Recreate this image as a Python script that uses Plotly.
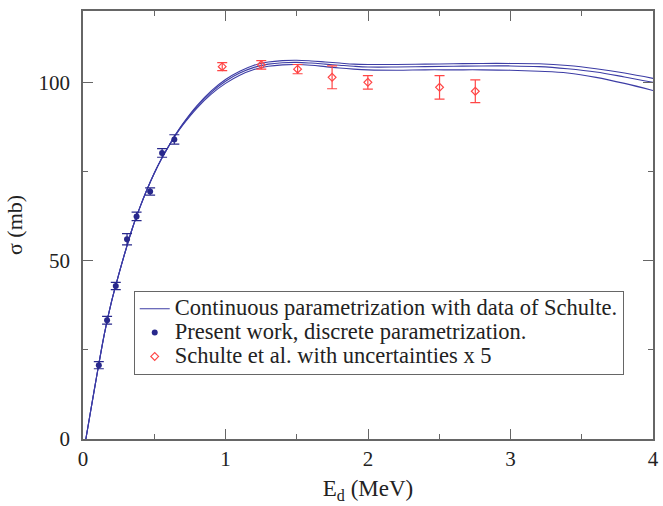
import plotly.graph_objects as go

# Continuous parametrization: central curve and its upper/lower bounds
e_curve = [0.02, 0.05, 0.1, 0.15, 0.2, 0.25, 0.3, 0.35, 0.4, 0.45, 0.5, 0.55, 0.6, 0.65, 0.7,
           0.8, 0.9, 1.0, 1.1, 1.2, 1.3, 1.4, 1.5, 1.6, 1.7, 1.8, 1.9, 2.0, 2.2, 2.4, 2.6,
           2.8, 3.0, 3.2, 3.4, 3.6, 3.8, 4.0]
sigma_mid = [0, 7, 18.5, 29.5, 38.5, 46, 53, 59.5, 65, 70, 74.5, 78.5, 82, 85.3, 88.2,
             93.2, 97.2, 100.3, 102.6, 104.2, 105.1, 105.5, 105.6, 105.4, 105.1, 104.8, 104.5, 104.3,
             104.3, 104.4, 104.5, 104.6, 104.6, 104.4, 103.8, 102.9, 101.5, 100.0]
sigma_up = [0, 7, 18.5, 29.5, 38.5, 46, 53, 59.5, 65, 70, 74.5, 78.5, 82, 85.4, 88.4,
            93.5, 97.6, 100.8, 103.1, 104.8, 105.7, 106.1, 106.2, 106.0, 105.7, 105.4, 105.1, 105.0,
            105.0, 105.1, 105.2, 105.3, 105.3, 105.2, 104.7, 103.8, 102.6, 101.1]
sigma_lo = [0, 7, 18.5, 29.5, 38.5, 46, 53, 59.5, 65, 70, 74.5, 78.5, 82, 85.2, 88.0,
            92.8, 96.7, 99.7, 102.0, 103.6, 104.5, 104.9, 105.0, 104.8, 104.4, 104.0, 103.7, 103.5,
            103.4, 103.5, 103.5, 103.5, 103.4, 103.1, 102.6, 101.4, 99.7, 97.7]

# Present work, discrete parametrization
e_present = [0.111, 0.169, 0.230, 0.309, 0.376, 0.471, 0.555, 0.641]
sigma_present = [20.7, 33.3, 42.9, 56.0, 62.4, 69.4, 80.2, 84.0]
err_present = [1.0, 1.1, 1.0, 1.6, 1.2, 1.0, 1.2, 1.3]

# Schulte et al. (uncertainties x 5)
e_schulte = [0.977, 1.251, 1.506, 1.748, 1.999, 2.502, 2.753]
sigma_schulte = [104.4, 104.9, 103.7, 101.4, 100.0, 98.6, 97.5]
err_schulte = [1.1, 1.2, 1.3, 3.2, 1.9, 3.3, 3.2]

legend_names = [
    "Continuous parametrization with data of Schulte.",
    "Present work, discrete parametrization.",
    "Schulte et al. with uncertainties x 5",
]

curve_color = "rgb(60,60,165)"
present_color = "rgb(40,40,140)"
schulte_color = "rgb(255,70,70)"
serif = "Liberation Serif, Times New Roman, serif"


def legend_label(text):
    # larger glyphs than the legend's row height so the entries sit close together
    return '<span style="font-size:22.5px">' + text + "</span>"


fig = go.Figure()

for ys, show in [(sigma_up, False), (sigma_mid, True), (sigma_lo, False)]:
    fig.add_trace(go.Scatter(
        x=e_curve, y=ys, mode="lines",
        line=dict(color=curve_color, width=1.1, shape="spline", smoothing=1.0),
        name=legend_label(legend_names[0]), showlegend=show, legendrank=1,
    ))

fig.add_trace(go.Scatter(
    x=e_present, y=sigma_present, mode="markers",
    marker=dict(symbol="circle", size=6, color=present_color),
    error_y=dict(type="data", array=err_present, color=present_color, thickness=1.2, width=5),
    name=legend_label(legend_names[1]), legendrank=2,
))

fig.add_trace(go.Scatter(
    x=e_schulte, y=sigma_schulte, mode="markers",
    marker=dict(symbol="diamond-open", size=6, color=schulte_color, line=dict(width=1.2)),
    error_y=dict(type="data", array=err_schulte, color=schulte_color, thickness=1.2, width=5),
    name=legend_label(legend_names[2]), legendrank=3,
))

axis_common = dict(
    showline=True, linecolor="#666", linewidth=1.5, mirror="ticks",
    ticks="inside", tickcolor="#666", tickwidth=1.3, ticklen=10,
    showgrid=False, zeroline=False,
    tickfont=dict(family=serif, size=21, color="#222"),
)

fig.update_layout(
    width=663, height=506,
    margin=dict(l=83, r=4, t=11, b=67),
    paper_bgcolor="white", plot_bgcolor="white",
    font=dict(family=serif, color="#222"),
    xaxis=dict(range=[0, 4], dtick=1, tick0=0,
               minor=dict(ticks="inside", ticklen=5, dtick=0.5, tickcolor="#666", tickwidth=1.3),
               title=dict(text="E<sub>d</sub> (MeV)", font=dict(family=serif, size=23), standoff=10),
               **axis_common),
    yaxis=dict(range=[0, 120], dtick=50, tick0=0, ticklabelstandoff=7,
               minor=dict(ticks="inside", ticklen=5, dtick=25, tickcolor="#666", tickwidth=1.3),
               title=dict(text="σ (mb)", font=dict(family=serif, size=22), standoff=10),
               **axis_common),
    legend=dict(
        x=0.089, y=0.346, xanchor="left", yanchor="top",
        bordercolor="#666", borderwidth=1, bgcolor="white",
        font=dict(family=serif, size=16, color="#222"),
        tracegroupgap=0, itemwidth=30,
    ),
)

fig.write_html("out.html")
